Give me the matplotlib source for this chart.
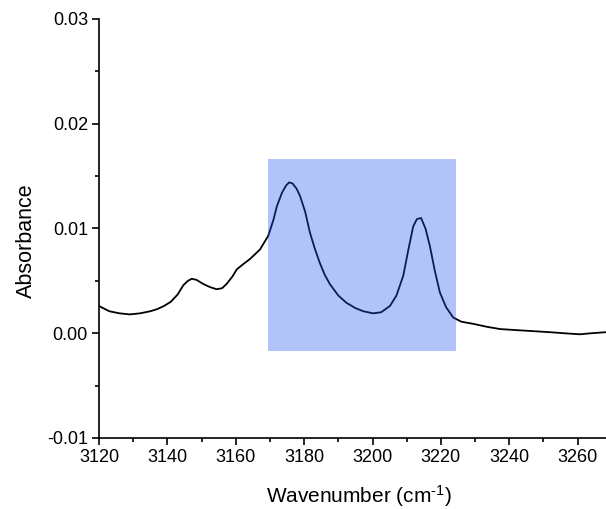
import matplotlib
matplotlib.use("Agg")
import matplotlib.pyplot as plt
from matplotlib.ticker import MultipleLocator
from matplotlib.patches import Rectangle

plt.rcParams['font.family'] = ['Liberation Sans', 'DejaVu Sans']
plt.rcParams['mathtext.fontset'] = 'custom'
plt.rcParams['mathtext.rm'] = 'Liberation Sans'
plt.rcParams['mathtext.it'] = 'Liberation Sans'
plt.rcParams['mathtext.default'] = 'regular'

wavenumber = [3120.0, 3123.0, 3126.0, 3129.0, 3132.0, 3135.0, 3137.0, 3139.0, 3141.0, 3143.0,
              3144.7, 3146.0, 3147.1, 3148.5, 3150.5, 3152.5, 3154.4, 3156.0, 3157.3, 3159.0,
              3160.3, 3162.2, 3164.2, 3167.1, 3169.5, 3171.0, 3172.0, 3173.5, 3174.7, 3175.6,
              3176.6, 3177.8, 3178.8, 3180.3, 3181.7, 3183.2, 3184.6, 3186.0, 3187.5, 3190.0,
              3192.4, 3195.0, 3197.3, 3200.2, 3202.5, 3205.1, 3207.0, 3209.0, 3210.5, 3211.9,
              3213.0, 3214.2, 3215.5, 3216.8, 3218.2, 3219.7, 3221.5, 3223.6, 3226.0, 3229.4,
              3233.7, 3237.3, 3242.0, 3247.0, 3251.9, 3256.0, 3260.6, 3264.0, 3268.3]
absorbance = [0.0026, 0.0021, 0.0019, 0.0018, 0.0019, 0.0021, 0.0023, 0.0026, 0.0030, 0.0037,
              0.0046, 0.0050, 0.0052, 0.0051, 0.0047, 0.0044, 0.0042, 0.0043, 0.0047, 0.0054,
              0.0061, 0.0066, 0.0071, 0.0080, 0.0093, 0.0108, 0.0121, 0.0134, 0.0141, 0.0144,
              0.0143, 0.0138, 0.0131, 0.0116, 0.0096, 0.0080, 0.0067, 0.0056, 0.0047, 0.0036,
              0.0029, 0.0024, 0.0021, 0.0019, 0.0020, 0.0026, 0.0036, 0.0055, 0.0080, 0.0102,
              0.0109, 0.0110, 0.0100, 0.0083, 0.0060, 0.0039, 0.0025, 0.0015, 0.0011, 0.0009,
              0.0006, 0.0004, 0.0003, 0.0002, 0.0001, 0.0000, -0.0001, 0.0000, 0.0001]

highlight_x = [3169.4, 3224.4]
highlight_y = [-0.00168, 0.01664]

fig = plt.figure(figsize=(6.06, 5.09), dpi=100)
ax = fig.add_axes([0.1634, 0.1395, 0.8366, 0.8232])

ax.plot(wavenumber, absorbance, color='black', lw=1.3, zorder=2)
ax.add_patch(Rectangle((highlight_x[0], highlight_y[0]), highlight_x[1] - highlight_x[0],
                       highlight_y[1] - highlight_y[0], facecolor=(34/255, 83/255, 240/255),
                       alpha=0.35, edgecolor='none', zorder=3))

ax.set_xlim(3120, 3268.3)
ax.set_ylim(-0.01, 0.03)
ax.xaxis.set_major_locator(MultipleLocator(20))
ax.xaxis.set_minor_locator(MultipleLocator(10))
ax.yaxis.set_major_locator(MultipleLocator(0.01))
ax.yaxis.set_minor_locator(MultipleLocator(0.005))
ax.yaxis.set_major_formatter(matplotlib.ticker.FormatStrFormatter('%.2f'))
for s in ['top', 'right']:
    ax.spines[s].set_visible(False)
for s in ['left', 'bottom']:
    ax.spines[s].set_linewidth(1.2)
ax.tick_params(which='major', direction='out', length=5, width=1.2, labelsize=13, pad=3)
ax.tick_params(which='minor', direction='out', length=3, width=1.2)
ax.set_xlabel(r'Wavenumber (cm$^{\text{-1}}$)', fontsize=15)
ax.xaxis.set_label_coords((359 - 99) / 507, -0.108)
ax.set_ylabel('Absorbance', fontsize=15.5)
ax.yaxis.set_label_coords(-0.123, (438 - 241) / 419)

fig.savefig('out.png', dpi=100)
